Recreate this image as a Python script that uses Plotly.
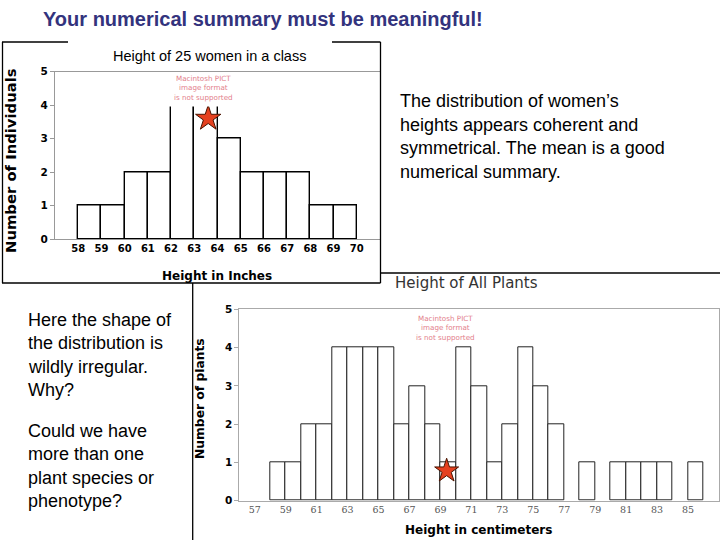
import plotly.graph_objects as go

W, H = 720, 540

# ---- data ----
women_bins = [58, 59, 60, 61, 62, 63, 64, 65, 66, 67, 68, 69]
women_counts = [1, 1, 2, 2, 4, 4, 3, 2, 2, 2, 1, 1]
women_ticks = list(range(58, 71))
women_mean = [63.6]
women_star_y = [3.6]

plant_bins = list(range(58, 86))
plant_counts = [1, 1, 2, 2, 4, 4, 4, 4, 2, 3, 2, 1, 4, 3, 1, 2, 4, 3, 2, 0,
                1, 0, 1, 1, 1, 1, 0, 1]
plant_ticks = list(range(57, 86, 2))
plant_mean = [69.4]
plant_star_y = [0.78]

y_ticks = [0, 1, 2, 3, 4, 5]


def px(x):
    return x / W


def py(y):
    return 1 - y / H


fig = go.Figure()

# top histogram
fig.add_trace(go.Bar(
    x=[b + 0.5 for b in women_bins], y=women_counts, width=1,
    marker=dict(color="white", line=dict(color="black", width=1.4)),
    xaxis="x", yaxis="y", showlegend=False, hoverinfo="skip"))
fig.add_trace(go.Scatter(
    x=women_mean, y=women_star_y, mode="markers",
    marker=dict(symbol="star", size=19, color="#e5401f",
                line=dict(color="#4a1400", width=1)),
    xaxis="x", yaxis="y", showlegend=False, hoverinfo="skip"))

# bottom histogram (empty bins drawn as no bar)
fig.add_trace(go.Bar(
    x=[b + 0.5 for b in plant_bins],
    y=[c if c else None for c in plant_counts], width=1,
    marker=dict(color="white", line=dict(color="#222", width=1)),
    xaxis="x2", yaxis="y2", showlegend=False, hoverinfo="skip"))
fig.add_trace(go.Scatter(
    x=plant_mean, y=plant_star_y, mode="markers",
    marker=dict(symbol="star", size=18, color="#e5401f",
                line=dict(color="#4a1400", width=1)),
    xaxis="x2", yaxis="y2", showlegend=False, hoverinfo="skip"))

bold_x = dict(family="DejaVu Sans", size=10, color="black", weight="bold")
bold_y = dict(family="DejaVu Sans", size=10.5, color="black", weight="bold")

fig.update_layout(
    width=W, height=H, margin=dict(l=0, r=0, t=0, b=0),
    paper_bgcolor="white", plot_bgcolor="white", bargap=0,
    xaxis=dict(domain=[px(55), px(380)], range=[57, 71],
               tickvals=women_ticks, ticks="", showgrid=False, zeroline=False,
               showline=True, linecolor="#999", linewidth=1, mirror=True,
               tickfont=bold_x, anchor="y", automargin=False),
    yaxis=dict(domain=[py(239), py(71.5)], range=[0, 5],
               tickvals=y_ticks, ticks="outside", ticklen=4, tickcolor="#999",
               showgrid=False, zeroline=False,
               showline=True, linecolor="#999", linewidth=1, mirror=True,
               tickfont=bold_y, anchor="x", automargin=False),
    xaxis2=dict(domain=[px(239.3), px(719)], range=[56, 87],
                tickvals=plant_ticks, ticks="", showgrid=False, zeroline=False,
                showline=True, linecolor="#aaa", linewidth=1, mirror=True,
                tickfont=dict(family="DejaVu Serif", size=9.5, color="#555"),
                anchor="y2", automargin=False),
    yaxis2=dict(domain=[py(500.7), py(309.3)], range=[0, 5],
                tickvals=y_ticks, ticks="outside", ticklen=4, tickcolor="#aaa",
                showgrid=False, zeroline=False,
                showline=True, linecolor="#aaa", linewidth=1, mirror=True,
                tickfont=bold_y, anchor="x2", automargin=False),
)

# white cover where the placeholder hides bar tops
fig.add_shape(type="rect", xref="paper", yref="paper",
              x0=px(160), x1=px(248), y0=py(106.5), y1=py(76),
              fillcolor="white", line=dict(width=0), layer="above")

# frame lines
lines = [
    (2, 42, 68, 42), (332, 42, 380.5, 42), (2.5, 42, 2.5, 283),
    (380.5, 42, 380.5, 283), (2, 283, 380.5, 283),
    (380.5, 273, 720, 273), (192.7, 283, 192.7, 540),
]
for x0, y0, x1, y1 in lines:
    fig.add_shape(type="line", xref="paper", yref="paper",
                  x0=px(x0), y0=py(y0), x1=px(x1), y1=py(y1),
                  line=dict(color="black", width=1.3), layer="above")


def txt(s, x, y, size, color="black", family="Liberation Sans, Arial",
        weight="normal", xanchor="left", angle=0):
    fig.add_annotation(text=s, x=px(x), y=py(y), xref="paper", yref="paper",
                       xanchor=xanchor, yanchor="middle", showarrow=False,
                       textangle=angle, borderpad=0,
                       font=dict(size=size, color=color, family=family,
                                 weight=weight))


PICT = "Macintosh PICT<br>image format<br>is not supported"

# main title
txt("Your numerical summary must be meaningful!", 42, 19, 20,
    color="#33337d", weight="bold")

# top chart texts
txt("Height of 25 women in a class", 209, 56, 14.5, xanchor="center")
txt("Number of Individuals", 10, 161, 14.8, family="DejaVu Sans",
    weight="bold", xanchor="center", angle=-90)
txt("Height in Inches", 217, 276, 12, family="DejaVu Sans", weight="bold",
    xanchor="center")
txt(PICT, 203, 88.5, 7.2, color="#e3808c", family="DejaVu Sans",
    xanchor="center")

# bottom chart texts
txt("Height of All Plants", 466, 283, 15, color="#333",
    family="DejaVu Sans", xanchor="center")
txt("Number of plants", 200, 399, 12.3, family="DejaVu Sans",
    weight="bold", xanchor="center", angle=-90)
txt("Height in centimeters", 478, 530, 12, family="DejaVu Sans",
    weight="bold", xanchor="center")
txt(PICT, 445, 327.5, 7.2, color="#e3808c", family="DejaVu Sans",
    xanchor="center")

# side texts
right_lines = ["The distribution of women\u2019s", "heights appears coherent and",
               "symmetrical. The mean is a good", "numerical summary."]
for i, s in enumerate(right_lines):
    txt(s, 399, 101 + 23.5 * i, 18)

left_lines = ["Here the shape of", "the distribution is", "wildly irregular.",
              "Why?"]
for i, s in enumerate(left_lines):
    txt(s, 27, 320 + 23.4 * i, 18)

left_lines2 = ["Could we have", "more than one", "plant species or",
               "phenotype?"]
for i, s in enumerate(left_lines2):
    txt(s, 27, 431 + 23.4 * i, 18)

fig.write_html(
    "out.html",
    config={"displayModeBar": False},
    post_script=(
        "var gd=document.getElementById('{plot_id}');"
        "gd.style.position='fixed';gd.style.left='0px';gd.style.top='0px';"
        "document.body.style.margin='0';"
        "document.body.style.overflow='hidden';"
        "document.documentElement.style.overflow='hidden';"))
